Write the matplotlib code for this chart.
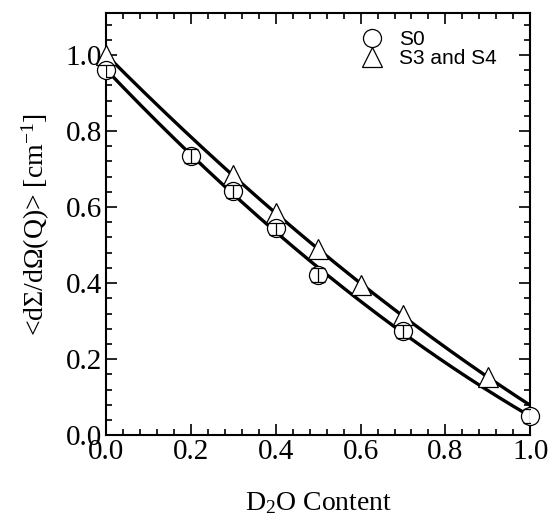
import numpy as np
import matplotlib
matplotlib.use("Agg")
import matplotlib.pyplot as plt
from matplotlib.ticker import MultipleLocator

# data
s0_x = [0.0, 0.2, 0.3, 0.4, 0.5, 0.7, 1.0]
s0_y = [0.96, 0.734, 0.643, 0.545, 0.421, 0.274, 0.05]
s0_err = [0.018, 0.018, 0.018, 0.018, 0.018, 0.018, 0.018]

s34_x = [0.0, 0.3, 0.4, 0.5, 0.6, 0.7, 0.9]
s34_y = [1.0, 0.684, 0.584, 0.49, 0.395, 0.316, 0.153]

plt.rcParams['font.family'] = ['Liberation Serif', 'DejaVu Serif']
plt.rcParams['mathtext.fontset'] = 'custom'
plt.rcParams['mathtext.rm'] = 'Liberation Serif'
plt.rcParams['mathtext.it'] = 'Liberation Serif:italic'

fig = plt.figure(figsize=(5.5, 5.25), dpi=100)
ax = fig.add_axes([0.193, 0.171, 0.771, 0.804])

# quadratic fits through each series
xx = np.linspace(0, 1, 200)
for xs, ys in [(s0_x, s0_y), (s34_x, s34_y)]:
    c = np.polyfit(xs, ys, 2)
    ax.plot(xx, np.polyval(c, xx), color='black', lw=2.4, zorder=2)

ax.errorbar(s0_x, s0_y, yerr=s0_err, fmt='none', ecolor='black',
            elinewidth=0.9, capsize=5, capthick=0.9, zorder=4)
ax.plot(s0_x, s0_y, 'o', ms=13, mfc='none', mec='black', mew=0.9,
        zorder=5, label='S0', clip_on=False)
ax.plot(s0_x, s0_y, 'o', ms=13, mfc='white', mec='none', zorder=3, clip_on=False)
ax.plot(s34_x, s34_y, '^', ms=15, mfc='white', mec='black', mew=0.9,
        zorder=4, label='S3 and S4', clip_on=False)

ax.set_xlim(0, 1)
ax.set_ylim(0, 1.11)
ax.xaxis.set_major_locator(MultipleLocator(0.2))
ax.xaxis.set_minor_locator(MultipleLocator(0.04))
ax.yaxis.set_major_locator(MultipleLocator(0.2))
ax.yaxis.set_minor_locator(MultipleLocator(0.04))
ax.xaxis.set_major_formatter(plt.FormatStrFormatter('%.1f'))
ax.yaxis.set_major_formatter(plt.FormatStrFormatter('%.1f'))
ax.tick_params(which='both', direction='in', top=True, right=True,
               width=1.2, labelsize=21, pad=3)
ax.tick_params(which='major', length=8)
ax.tick_params(which='minor', length=4)
for sp in ax.spines.values():
    sp.set_linewidth(1.5)

ax.set_xlabel('D$_2$O Content', fontsize=20, labelpad=18)
ax.set_ylabel('<d\u03a3/d\u03a9(Q)> [cm$^{-1}$]', fontsize=20, labelpad=10)

ax.legend(loc='upper right', bbox_to_anchor=(0.96, 1.0), frameon=False,
          handletextpad=0.3, labelspacing=0.0, borderpad=0.3,
          prop={'family': 'Liberation Sans', 'size': 15})

fig.savefig('out.png', dpi=100)
